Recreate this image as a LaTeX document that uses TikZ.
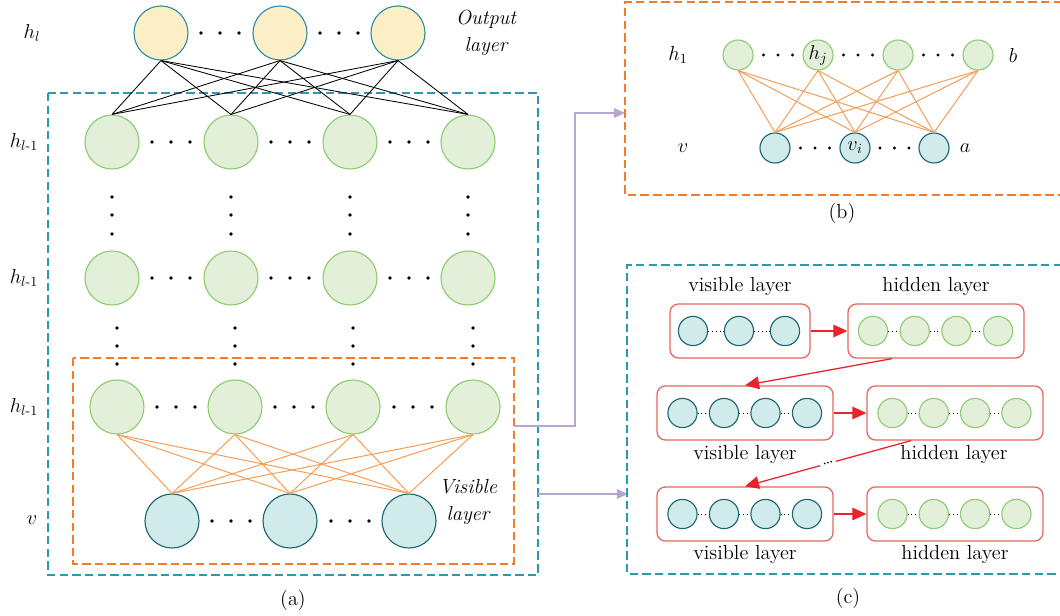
\documentclass[tikz,border=0pt]{standalone}
\usepackage{amsmath}
\usetikzlibrary{arrows.meta}
\definecolor{tealdash}{HTML}{2C9AAE}
\definecolor{orngdash}{HTML}{F27C2A}
\definecolor{orngline}{HTML}{F79B55}
\definecolor{grnfill}{HTML}{E2EFD9}
\definecolor{grndraw}{HTML}{8FCB6F}
\definecolor{tlfill}{HTML}{D0EBE9}
\definecolor{tldraw}{HTML}{1B6572}
\definecolor{ylwfill}{HTML}{FCEFC5}
\definecolor{ylwdraw}{HTML}{2B8EA5}
\definecolor{redbox}{HTML}{E7675F}
\definecolor{redarr}{HTML}{E9232B}
\definecolor{purp}{HTML}{B6A6D0}
\tikzset{
	hid/.style={circle,draw=grndraw,fill=grnfill,line width=0.8pt,minimum size=1.35cm,inner sep=0pt},
	vis/.style={circle,draw=tldraw,fill=tlfill,line width=0.8pt,minimum size=1.35cm,inner sep=0pt},
	outn/.style={circle,draw=ylwdraw,fill=ylwfill,line width=0.8pt,minimum size=1.35cm,inner sep=0pt},
	shid/.style={hid,minimum size=0.75cm},
	svis/.style={vis,minimum size=0.75cm},
	chid/.style={hid,minimum size=0.73cm},
	cvis/.style={vis,minimum size=0.73cm},
	tealbox/.style={draw=tealdash,line width=0.9pt,dash pattern=on 6pt off 3pt},
	orngbox/.style={draw=orngdash,line width=0.9pt,dash pattern=on 6pt off 3pt},
	blk/.style={line width=0.6pt},
	org/.style={draw=orngline,line width=0.7pt},
	rbox/.style={draw=redbox,line width=0.9pt,rounded corners=6pt,minimum height=1.35cm},
	redline/.style={draw=redarr,line width=0.9pt,-{Triangle[length=10pt,width=9pt]}},
	purpline/.style={draw=purp,line width=1pt,-{Triangle[length=8pt,width=7pt]}},
	lay/.style={font=\fontsize{14.5}{19}\selectfont\itshape,align=center},
	tiny dots/.style={dotted,line width=0.7pt}
}
\begin{document}
\begin{tikzpicture}[x=0.025cm,y=-0.025cm,font=\fontsize{14.5}{17}\selectfont]
	\useasboundingbox (0,0) rectangle (1060,616);
	\draw[tealbox] (48,93) rectangle (538,575);
	\draw[orngbox] (73,358) rectangle (514,564);
	\foreach \i/\x in {1/161,2/280,3/398}
		\node[outn] (o\i) at (\x,33) {};
	\foreach \i/\x in {1/112,2/231,3/350,4/468}{
		\node[hid] (p\i) at (\x,142) {};
		\node[hid] (q\i) at (\x,278) {};
	}
	\foreach \i/\x in {1/117,2/235,3/353,4/473}
		\node[hid] (r\i) at (\x,407) {};
	\foreach \i/\x in {1/172,2/290,3/409}
		\node[vis] (v\i) at (\x,521) {};
	\foreach \i in {1,2,3}{
		\foreach \j in {1,...,4}
			\draw[blk] (o\i.south)--(p\j.north);
	}
	\foreach \i in {1,...,4}{
		\foreach \j in {1,2,3}
			\draw[org] (r\i.south)--(v\j.north);
	}
	\foreach \d in {-19,0,19}{
		\foreach \m in {220,339}
			\fill (\m+\d,33) circle(1.8);
		\foreach \m in {171,290,409}{
			\fill (\m+\d,142) circle(1.8);
			\fill (\m+\d,278) circle(1.8);
		}
		\foreach \m in {176,294,413}
			\fill (\m+\d,407) circle(1.8);
		\foreach \m in {231,350}
			\fill (\m+\d,521) circle(1.8);
	}
	\foreach \x in {112,231,350,468}{
		\foreach \y in {197,215,234}
			\fill (\x,\y) circle(1.8);
	}
	\foreach \x in {117,235,353,473}{
		\foreach \y in {328,346,364}
			\fill (\x,\y) circle(1.8);
	}
	\node (lhl) at (32,33) {$h_l$};
	\node (lh1) at (24,142) {$h_{l\text{-}1}$};
	\node (lh2) at (24,278) {$h_{l\text{-}1}$};
	\node (lh3) at (24,407) {$h_{l\text{-}1}$};
	\node (lv) at (32,520) {$v$};
	\node[lay] (outlab) at (486,33) {Output\\layer};
	\node[lay] (vislab) at (468,502) {Visible\\layer};
	\node (capa) at (293,600) {(a)};
	\coordinate (aout) at (514,426);
	\coordinate (aout2) at (538,494);
	\coordinate (bin) at (625,113);
	\coordinate (cin) at (628,494);
	\draw[purpline] (aout)--++(61,0)|-(bin);
	\draw[purpline] (aout2)--(cin);
	\draw[orngbox] (1062,2)--(625,2)--(625,195)--(1062,195);
	\node[shid] (bh1) at (738,55) {};
	\node[shid] (bh2) at (818,55) {$h_j$};
	\node[shid] (bh3) at (898,55) {};
	\node[shid] (bh4) at (978,55) {};
	\node[svis] (bv1) at (775,148) {};
	\node[svis] (bv2) at (855,148) {$v_i$};
	\node[svis] (bv3) at (934,148) {};
	\foreach \i in {1,...,4}{
		\foreach \j in {1,2,3}
			\draw[org] (bh\i.south)--(bv\j.north);
	}
	\foreach \d in {-14.5,0,14.5}{
		\foreach \m in {778,858,938}
			\fill (\m+\d,55) circle(1.6);
		\foreach \m in {815,894.5}
			\fill (\m+\d,148) circle(1.6);
	}
	\node (lbh) at (678,55) {$h_1$};
	\node (lbb) at (1013,55) {$b$};
	\node (lbv) at (683,148) {$v$};
	\node (lba) at (965,148) {$a$};
	\node (capb) at (842,213) {(b)};
	\draw[tealbox] (1062,265)--(627,265)--(627,574)--(1062,574);
	\node[rbox,minimum width=3.5cm] (vb1) at (740,331) {};
	\node[rbox,minimum width=4.4cm] (hb1) at (936,331) {};
	\node[rbox,minimum width=4.4cm] (vb2) at (745,413) {};
	\node[rbox,minimum width=4.4cm] (hb2) at (955,413) {};
	\node[rbox,minimum width=4.4cm] (vb3) at (745,514) {};
	\node[rbox,minimum width=4.4cm] (hb3) at (955,514) {};
	\foreach \i/\x in {1/693,2/739,3/785}
		\node[cvis] (c1\i) at (\x,331) {};
	\foreach \i in {1,...,4}{
		\node[chid] (d1\i) at (873+41.7*\i-41.7,331) {};
		\node[cvis] (c2\i) at (682.5+41.5*\i-41.5,413) {};
		\node[chid] (d2\i) at (892.5+41.3*\i-41.3,413) {};
		\node[cvis] (c3\i) at (682.5+41.5*\i-41.5,514) {};
		\node[chid] (d3\i) at (892.5+41.3*\i-41.3,514) {};
	}
	\draw[tiny dots] (c11)--(c12);
	\draw[tiny dots] (c12)--(c13);
	\foreach \i/\j in {1/2,2/3,3/4}{
		\draw[tiny dots] (d1\i)--(d1\j);
		\draw[tiny dots] (c2\i)--(c2\j);
		\draw[tiny dots] (d2\i)--(d2\j);
		\draw[tiny dots] (c3\i)--(c3\j);
		\draw[tiny dots] (d3\i)--(d3\j);
	}
	\draw[redline] (vb1)--(hb1);
	\draw[redline] (vb2)--(hb2);
	\draw[redline] (vb3)--(hb3);
	\draw[redline] ([xshift=-1.1cm]hb1.south)--(vb2.north);
	\draw[redline] ([xshift=-1.1cm]hb2.south)--node[fill=white,inner sep=1.5pt,sloped,font=\fontsize{13}{14}\selectfont]{\dots}(vb3.north);
	\node (lvis1) at (740,287) {visible layer};
	\node (lhid1) at (936,287) {hidden layer};
	\node (lvis2) at (745,455) {visible layer};
	\node (lhid2) at (954,455) {hidden layer};
	\node (lvis3) at (745,555) {visible layer};
	\node (lhid3) at (955,555) {hidden layer};
	\node (capc) at (848,598) {(c)};
\end{tikzpicture}
\end{document}
